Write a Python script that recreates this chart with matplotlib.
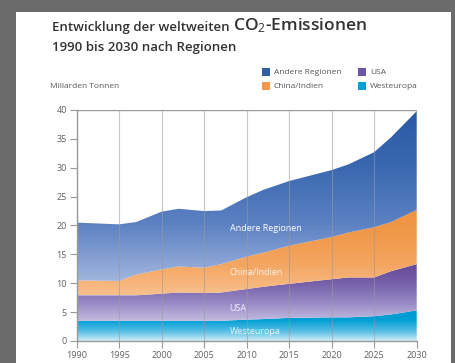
import numpy as np
import matplotlib
matplotlib.use("Agg")
import matplotlib.pyplot as plt
from matplotlib.colors import LinearSegmentedColormap
from matplotlib.patches import Rectangle

plt.rcParams['font.family'] = ['Open Sans', 'DejaVu Sans']
plt.rcParams['mathtext.fontset'] = 'custom'
plt.rcParams['mathtext.rm'] = 'Open Sans'
plt.rcParams['mathtext.it'] = 'Open Sans'

jahre = [1990, 1995, 1997, 2000, 2002, 2005, 2007, 2010, 2012,
         2015, 2020, 2022, 2025, 2027, 2030]
westeuropa = [3.5, 3.5, 3.5, 3.5, 3.5, 3.5, 3.5, 3.7, 3.8, 4.0, 4.1, 4.1, 4.3, 4.6, 5.3]
usa = [4.4, 4.4, 4.4, 4.7, 4.9, 4.8, 4.9, 5.3, 5.6, 5.9, 6.6, 6.9, 6.7, 7.5, 8.0]
china_indien = [2.6, 2.5, 3.6, 4.2, 4.5, 4.4, 4.9, 5.6, 5.9, 6.6, 7.3, 7.8, 8.7, 8.5, 9.4]
andere = [10.0, 9.8, 9.1, 10.0, 10.0, 9.8, 9.3, 10.3, 10.9, 11.2, 11.6, 11.8, 13.0, 14.7, 17.1]

regionen = ["Westeuropa", "USA", "China/Indien", "Andere Regionen"]
legende_farben = ["#0a9fd6", "#6f55a5", "#f29a4a", "#2f5fa8"]

# verlauf pro band: (y unten, y oben, farben von hell nach dunkel)
verlaeufe = [
    (0, 5.3, ["#d2eef9", "#52bce4", "#03a0d5", "#0098cf"]),
    (3.5, 13.3, ["#c2bbe0", "#9688c4", "#7660a9", "#66499a"]),
    (8, 23, ["#f8c08c", "#f4a764", "#f19a4b", "#ee9240"]),
    (10, 40, ["#a4b7df", "#5d82c3", "#3a68b0", "#2b58a3"]),
]

W, H = 455, 363
fig = plt.figure(figsize=(4.55, 3.63), dpi=100)
fig.patch.set_facecolor("#6b6b6b")
fig.patches.append(Rectangle((16 / W, 0), (451 - 16) / W, (H - 12) / H,
                             transform=fig.transFigure, facecolor="white",
                             edgecolor="none", zorder=-5))

ax = fig.add_axes([76.7 / W, (H - 341) / H, 340 / W, 231 / H])
ax.set_zorder(2)
ax.set_facecolor("none")

polys = ax.stackplot(jahre, westeuropa, usa, china_indien, andere)
grad = np.linspace(0, 1, 256).reshape(-1, 1)
for poly, (lo, hi, farben) in zip(polys, verlaeufe):
    poly.set_facecolor("none")
    poly.set_edgecolor("none")
    cmap = LinearSegmentedColormap.from_list("v", farben)
    im = ax.imshow(grad, cmap=cmap, origin="lower", aspect="auto",
                   extent=[1990, 2030, lo, hi], zorder=1)
    im.set_clip_path(poly.get_paths()[0], transform=ax.transData)

ax.set_xlim(1990, 2030)
ax.set_ylim(0, 40)

for x in range(1990, 2031, 5):
    ax.axvline(x, color="#9a9a9a", lw=0.8, alpha=0.55, zorder=2)
ax.axhline(40, color="#9a9a9a", lw=1.0, zorder=2)

for s in ["top", "right"]:
    ax.spines[s].set_visible(False)
for s in ["left", "bottom"]:
    ax.spines[s].set_color("#9a9a9a")
    ax.spines[s].set_linewidth(1.0)
    ax.spines[s].set_zorder(3)

ax.set_xticks(range(1990, 2031, 5))
ax.set_yticks(range(0, 41, 5))
ax.tick_params(axis="both", colors="#9a9a9a", labelcolor="#606060",
               labelsize=6.5, length=5, width=0.8, pad=2)

# beschriftungen in den flaechen
ax.text(2008, 19.5, "Andere Regionen", color="white", fontsize=6.5, va="center", zorder=4)
ax.text(2008, 11.8, "China/Indien", color="white", fontsize=6.5, va="center", alpha=0.85, zorder=4)
ax.text(2008, 5.7, "USA", color="white", fontsize=6.5, va="center", alpha=0.85, zorder=4)
ax.text(2008, 1.6, "Westeuropa", color="white", fontsize=6.5, va="center", alpha=0.85, zorder=4)

# titel
t1 = fig.text(52 / W, 1 - 30.5 / H, "Entwicklung der weltweiten", fontsize=9.5,
              color="#333333", fontweight="semibold", va="baseline")
fig.canvas.draw()
bb = t1.get_window_extent()
fig.text((bb.x1 + 3) / W, 1 - 30.5 / H, "CO$_2$-Emissionen", fontsize=12.5,
         color="#333333", fontweight="semibold", va="baseline")
fig.text(52 / W, 1 - 51.5 / H, "1990 bis 2030 nach Regionen", fontsize=9.5,
         color="#333333", fontweight="semibold", va="baseline")
fig.text(50 / W, 1 - 86 / H, "Millarden Tonnen", fontsize=6, color="#555555", va="center")

# legende
pos = [(358, 86), (358, 72), (262, 86), (262, 72)]
for (px, py), name, farbe in zip(pos, regionen, legende_farben):
    fig.patches.append(Rectangle((px / W, 1 - (py + 4) / H), 8 / W, 8 / H,
                                 transform=fig.transFigure, facecolor=farbe,
                                 edgecolor="none", zorder=1))
    fig.text((px + 12) / W, 1 - py / H, name, fontsize=6, color="#555555", va="center")

fig.savefig("out.png", dpi=100, facecolor=fig.get_facecolor())
